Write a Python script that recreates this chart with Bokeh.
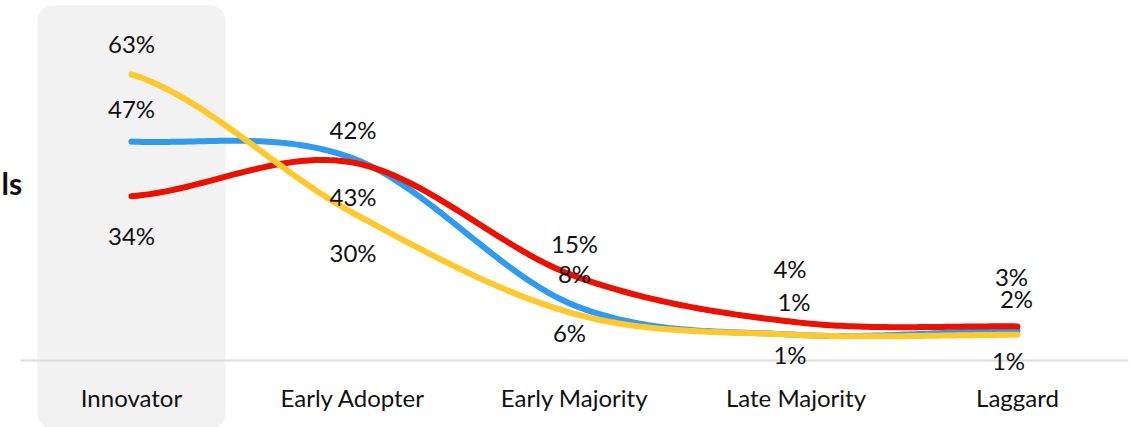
import numpy as np
from bokeh.plotting import figure
from bokeh.models import ColumnDataSource, BoxAnnotation
from bokeh.core.properties import value
from bokeh.embed import file_html
from bokeh.resources import INLINE

categories = ["Innovator", "Early Adopter", "Early Majority", "Late Majority", "Laggard"]
blue_vals = [47, 43, 8, 1, 2]
red_vals = [34, 42, 15, 4, 3]
yellow_vals = [63, 30, 6, 1, 1]

BLUE = "#2E9BF0"
RED = "#EB1000"
YELLOW = "#FFC92E"
FONT = "Lato"

# label pixel offsets (style only)
blue_off_y = [-33, 38, -32, -33, -32]
blue_off_x = [0, 0, 0, -2, -1]
red_off_y = [39, -33, -33, -54, -50]
red_off_x = [0, 0, 0, -6, -6]
yellow_off_y = [-31, 39, 19, 20, 26]
yellow_off_x = [0, 0, -5, -6, -9]

W, H = 1134, 427
PX_PER_X = 221.5
X0_CANVAS = 131.0
PX_PER_Y = 4.2
Y0_CANVAS = 338.5

x_start = -X0_CANVAS / PX_PER_X
x_end = (W - X0_CANVAS) / PX_PER_X
y_end = Y0_CANVAS / PX_PER_Y
y_start = (Y0_CANVAS - H) / PX_PER_Y

p = figure(width=W, height=H, x_range=(x_start, x_end), y_range=(y_start, y_end),
           output_backend="svg", toolbar_location=None, min_border=0)
p.axis.visible = False
p.grid.visible = False
p.outline_line_color = None
p.background_fill_color = "white"
p.border_fill_color = "white"

# highlight band for Innovator
p.add_layout(BoxAnnotation(left=-0.4244, right=0.4244,
                           top=(Y0_CANVAS - 5) / PX_PER_Y,
                           bottom=(Y0_CANVAS - 428) / PX_PER_Y,
                           fill_color="#F2F2F2", fill_alpha=1.0, line_color=None,
                           border_radius=15, level="underlay"))

# baseline
p.segment(x0=[-0.5], y0=[-5.12], x1=[4.5], y1=[-5.12], line_color="#DCDCDC", line_width=2)

def catmull(vals, n=60):
    pts = np.array(vals, dtype=float)
    ext = np.concatenate([[pts[0]], pts, [pts[-1]]])
    xs, ys = [], []
    for i in range(len(pts) - 1):
        p0, p1, p2, p3 = ext[i], ext[i + 1], ext[i + 2], ext[i + 3]
        m1 = (p2 - p0) / 2.0
        m2 = (p3 - p1) / 2.0
        t = np.linspace(0, 1, n, endpoint=(i == len(pts) - 2))
        h00 = 2 * t**3 - 3 * t**2 + 1
        h10 = t**3 - 2 * t**2 + t
        h01 = -2 * t**3 + 3 * t**2
        h11 = t**3 - t**2
        ys.extend(h00 * p1 + h10 * m1 + h01 * p2 + h11 * m2)
        xs.extend(i + t)
    return xs, ys

for vals, col in [(blue_vals, BLUE), (red_vals, RED), (yellow_vals, YELLOW)]:
    xs, ys = catmull(vals)
    p.line(xs, ys, line_color=col, line_width=6, line_cap="round", line_join="round")

xi = list(range(len(categories)))
for vals, ox, oy in [(blue_vals, blue_off_x, blue_off_y),
                     (red_vals, red_off_x, red_off_y),
                     (yellow_vals, yellow_off_x, yellow_off_y)]:
    src = ColumnDataSource(dict(x=xi, y=vals, t=[f"{v}%" for v in vals], ox=ox, oy=oy))
    p.text(x="x", y="y", text="t", x_offset="ox", y_offset="oy", source=src,
           text_font=value(FONT), text_font_size="24px", text_color="#111111",
           text_align="center", text_baseline="middle")

cat_src = ColumnDataSource(dict(x=xi, y=[-14.0] * len(categories), t=categories))
p.text(x="x", y="y", text="t", source=cat_src, text_font=value(FONT),
       text_font_size="24px", text_color="#111111", text_align="center",
       text_baseline="middle")

# fragment of a left-side label at the chart's left edge
p.text(x=[(1 - X0_CANVAS) / PX_PER_X], y=[(Y0_CANVAS - 182) / PX_PER_Y], text=["ls"],
       text_font=value(FONT), text_font_style="bold", text_font_size="30px",
       text_color="#111111", text_align="left", text_baseline="middle")

open("out.html", "w").write(file_html(p, INLINE))
